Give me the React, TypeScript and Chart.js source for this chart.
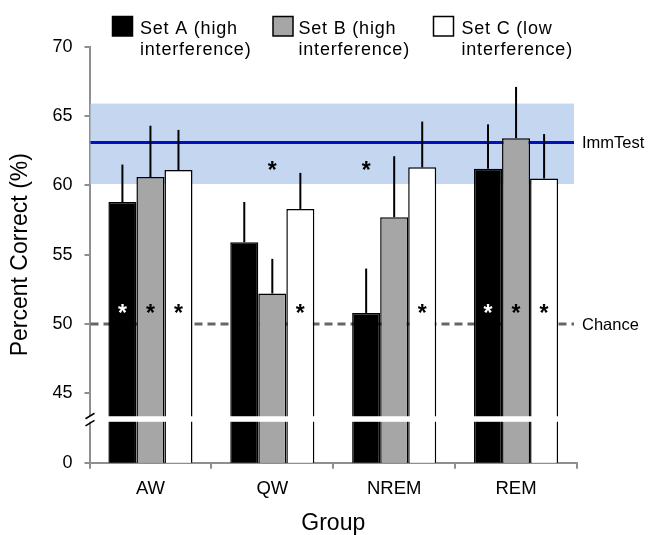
import { useEffect, useRef } from 'react';
import { Chart, registerables } from 'chart.js';

Chart.register(...registerables);

// ---------- data ----------
const groups = ['AW', 'QW', 'NREM', 'REM'];
const seriesNames = ['Set A (high\ninterference)', 'Set B (high\ninterference)', 'Set C (low\ninterference)'];
const setA = [58.8, 55.9, 50.8, 61.2];
const setB = [60.6, 52.2, 57.7, 63.4];
const setC = [61.1, 58.3, 61.3, 60.5];
const errA = [2.7, 2.9, 3.2, 3.2];
const errB = [3.7, 2.5, 4.4, 3.7];
const errC = [2.9, 2.6, 3.3, 3.2];
// asterisks: different from chance (drawn low in bar)
const starChanceA = [true, false, false, true];
const starChanceB = [true, false, false, true];
const starChanceC = [true, true, true, true];
// asterisks: different from immediate test (drawn high)
const starImmA = [false, false, true, false];
const starImmB = [false, true, false, false];
const starImmC = [false, false, false, false];
const immTestMean = 63.1;
const immTestLow = 60.1;
const immTestHigh = 65.9;
const chanceLevel = 50;
// axis: bottom of scale (40) stands for 0 because of the axis break
const axisFloor = 40;
const yTicks = [40, 45, 50, 55, 60, 65, 70];
const yTickLabels = ['0', '45', '50', '55', '60', '65', '70'];
const breakLow = 42.95;
const breakHigh = 43.35;
const starLowLevel = 51.15;
const starHighLevel = 61.45;

const FONT = '"Liberation Sans", Arial, sans-serif';
const fills = ['#000000', '#a6a6a6', '#ffffff'];

const overlayPlugin = {
  id: 'overlay',
  beforeDatasetsDraw(chart: any) {
    const { ctx, chartArea } = chart;
    const y = chart.scales.y;
    const xEnd = chartArea.right - 3;
    ctx.save();
    // ImmTest band
    ctx.fillStyle = '#c4d6f0';
    const yt = y.getPixelForValue(immTestHigh);
    const yb = y.getPixelForValue(immTestLow);
    ctx.fillRect(chartArea.left + 1, yt, xEnd - chartArea.left - 1, yb - yt);
    // ImmTest line
    ctx.strokeStyle = '#0010c0';
    ctx.lineWidth = 3;
    ctx.beginPath();
    const ym = y.getPixelForValue(immTestMean);
    ctx.moveTo(chartArea.left + 1, ym);
    ctx.lineTo(xEnd, ym);
    ctx.stroke();
    // chance line
    ctx.strokeStyle = '#666666';
    ctx.lineWidth = 3;
    ctx.setLineDash([8, 5]);
    ctx.beginPath();
    const yc = y.getPixelForValue(chanceLevel);
    ctx.moveTo(chartArea.left + 1, yc);
    ctx.lineTo(xEnd, yc);
    ctx.stroke();
    ctx.restore();
  },
  afterDatasetsDraw(chart: any) {
    const { ctx, chartArea } = chart;
    const y = chart.scales.y;
    const means = [setA, setB, setC];
    const errs = [errA, errB, errC];
    const lows = [starChanceA, starChanceB, starChanceC];
    const highs = [starImmA, starImmB, starImmC];
    ctx.save();
    // error bars (upper only)
    ctx.strokeStyle = '#000';
    ctx.lineWidth = 2;
    means.forEach((m, i) => {
      const meta = chart.getDatasetMeta(i);
      m.forEach((v, j) => {
        const bx = meta.data[j].x;
        ctx.beginPath();
        ctx.moveTo(bx, y.getPixelForValue(v));
        ctx.lineTo(bx, y.getPixelForValue(v + errs[i][j]));
        ctx.stroke();
      });
    });
    // axis break (white gap through bars)
    const b1 = y.getPixelForValue(breakHigh);
    const b2 = y.getPixelForValue(breakLow);
    ctx.fillStyle = '#ffffff';
    ctx.fillRect(chartArea.left - 3, b1, chartArea.right - chartArea.left + 3, b2 - b1);
    // break slashes on y axis
    ctx.strokeStyle = '#000';
    ctx.lineWidth = 1.5;
    const ax = chartArea.left;
    ctx.beginPath();
    ctx.moveTo(ax - 4, b1 + 2.5);
    ctx.lineTo(ax + 5, b1 - 3);
    ctx.moveTo(ax - 4, b2 + 4);
    ctx.lineTo(ax + 5, b2 - 1.5);
    ctx.stroke();
    // asterisks
    const fs = 23;
    ctx.font = `bold ${fs}px ${FONT}`;
    ctx.textAlign = 'center';
    ctx.textBaseline = 'alphabetic';
    means.forEach((m, i) => {
      const meta = chart.getDatasetMeta(i);
      m.forEach((v, j) => {
        const bx = meta.data[j].x;
        if (lows[i][j]) {
          ctx.fillStyle = i === 0 ? '#ffffff' : '#000000';
          ctx.fillText('*', bx, y.getPixelForValue(starLowLevel) + fs * 0.57);
        }
        if (highs[i][j]) {
          ctx.fillStyle = '#000000';
          ctx.fillText('*', bx, y.getPixelForValue(starHighLevel) + fs * 0.57);
        }
      });
    });
    ctx.restore();
  },
  afterDraw(chart: any) {
    const { ctx, chartArea } = chart;
    const y = chart.scales.y;
    ctx.save();
    // side labels
    ctx.fillStyle = '#000';
    ctx.font = `16.5px ${FONT}`;
    ctx.textAlign = 'left';
    ctx.textBaseline = 'middle';
    ctx.fillText('ImmTest', chartArea.right + 5, y.getPixelForValue(immTestMean) + 1);
    ctx.fillText('Chance', chartArea.right + 5, y.getPixelForValue(chanceLevel) + 1);
    // legend
    const boxX = [112.5, 273, 433.5];
    const textX = [140, 298.5, 461.5];
    ctx.font = `18px ${FONT}`;
    (ctx as any).letterSpacing = '0.8px';
    ctx.textBaseline = 'alphabetic';
    seriesNames.forEach((name, i) => {
      ctx.fillStyle = fills[i];
      ctx.fillRect(boxX[i], 16.5, 20, 19.5);
      ctx.strokeStyle = '#000';
      ctx.lineWidth = 1.5;
      ctx.strokeRect(boxX[i], 16.5, 20, 19.5);
      ctx.fillStyle = '#000';
      const lines = name.split('\n');
      lines.forEach((ln, k) => {
        ctx.fillText(ln, textX[i], 33.5 + k * 21.5);
      });
    });
    ctx.restore();
  },
};

export default function App() {
  const ref = useRef<HTMLCanvasElement | null>(null);
  useEffect(() => {
    document.body.style.margin = '0';
    const canvas = ref.current;
    if (!canvas) return;
    const chart = new Chart(canvas, {
      type: 'bar',
      data: {
        labels: groups,
        datasets: [setA, setB, setC].map((d, i) => ({
          label: seriesNames[i].replace('\n', ' '),
          data: d,
          backgroundColor: fills[i],
          borderColor: '#000000',
          borderWidth: 1.5,
          categoryPercentage: 0.69,
          barPercentage: 1.0,
        })),
      },
      options: {
        animation: false,
        responsive: true,
        maintainAspectRatio: false,
        layout: { padding: { top: 46.7, right: 71, left: 0, bottom: 0 } },
        plugins: {
          legend: { display: false },
          tooltip: { enabled: false },
        },
        scales: {
          x: {
            grid: {
              display: true,
              drawOnChartArea: false,
              drawTicks: true,
              tickLength: 6,
              color: '#8f8f8f',
              lineWidth: 2,
            },
            border: { display: true, color: '#8f8f8f', width: 2 },
            ticks: {
              color: '#000',
              font: { family: FONT, size: 18.5 },
              padding: 9,
            },
            title: {
              display: true,
              text: 'Group',
              color: '#000',
              font: { family: FONT, size: 23 },
              padding: { top: 0, bottom: -2 },
            },
            afterFit: (s: any) => {
              s.height = 72.3;
            },
          },
          y: {
            min: axisFloor,
            max: 70,
            grid: {
              display: true,
              drawOnChartArea: false,
              drawTicks: true,
              tickLength: 5,
              color: '#8f8f8f',
              lineWidth: 2,
            },
            border: { display: true, color: '#8f8f8f', width: 2 },
            afterBuildTicks: (s: any) => {
              s.ticks = yTicks.map((v) => ({ value: v }));
            },
            ticks: {
              color: '#000',
              font: { family: FONT, size: 18 },
              padding: 12,
              callback: (v: any) => {
                const idx = yTicks.indexOf(Number(v));
                return idx >= 0 ? yTickLabels[idx] : '';
              },
            },
            title: {
              display: true,
              text: 'Percent Correct (%)',
              color: '#000',
              font: { family: FONT, size: 23 },
              padding: { top: 7, bottom: 0 },
            },
            afterFit: (s: any) => {
              s.width = 89.5;
            },
          },
        },
      },
      plugins: [overlayPlugin],
    });
    return () => chart.destroy();
  }, []);
  return (
    <div style={{ width: 648, height: 535, position: 'relative' }}>
      <canvas ref={ref} />
    </div>
  );
}
